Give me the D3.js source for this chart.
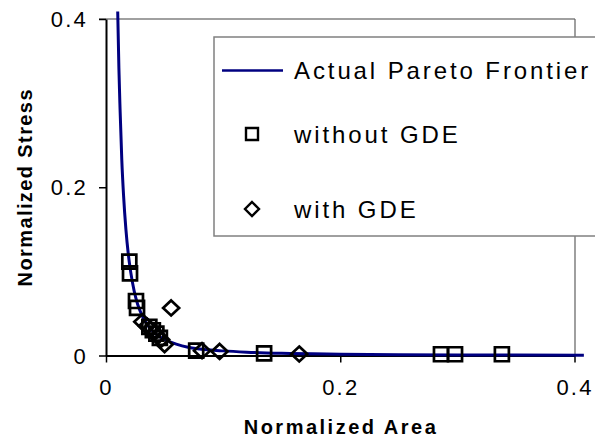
<!DOCTYPE html>
<html><head><meta charset="utf-8">
<script src="https://cdn.jsdelivr.net/npm/d3@7"></script>
<style>
body{margin:0;background:#fff}
svg{display:block}
text{font-family:"Liberation Sans",Arial,sans-serif;fill:#000}
</style>
</head><body>
<svg id="c" width="595" height="438"></svg>
<script>
// ---- data ----
const xTicks = [0, 0.2, 0.4];
const yTicks = [0, 0.2, 0.4];
const xTickLabels = ["0", "0.2", "0.4"];
const yTickLabels = ["0", "0.2", "0.4"];
const seriesNames = ["Actual Pareto Frontier", "without GDE", "with GDE"];
const xTitle = "Normalized Area";
const yTitle = "Normalized Stress";

const frontierX = [0.0100,0.0110,0.0120,0.0135,0.0150,0.0170,0.0190,0.0210,0.0240,0.0270,0.0300,0.0350,0.0400,0.0450,0.0500,0.0600,0.0700,0.0800,0.1000,0.1200,0.1500,0.2000,0.2500,0.3000,0.3500,0.4080];
const frontierY = [0.409,0.342,0.293,0.232,0.190,0.150,0.121,0.100,0.077,0.061,0.050,0.037,0.029,0.023,0.019,0.0135,0.0098,0.0078,0.0055,0.0040,0.0026,0.0016,0.0010,0.0007,0.0005,0.0004];

const withoutX = [0.0199,0.0205,0.0256,0.0265,0.037,0.040,0.043,0.046,0.077,0.135,0.286,0.298,0.338];
const withoutY = [0.1115,0.0977,0.0648,0.0565,0.034,0.030,0.026,0.021,0.0057,0.0026,0.0015,0.0015,0.0015];

const withX = [0.0556,0.031,0.035,0.038,0.041,0.044,0.047,0.050,0.082,0.097,0.165];
const withY = [0.0565,0.040,0.035,0.031,0.027,0.023,0.019,0.013,0.0057,0.0048,0.0018];

// ---- chart ----
const svg = d3.select("#c");
const x = d3.scaleLinear().domain([0, 0.4]).range([106, 574.5]);
const y = d3.scaleLinear().domain([0, 0.4]).range([355.5, 19]);
const navy = "#000080";

// frame (top & right)
svg.append("line").attr("x1", 99).attr("x2", 575).attr("y1", y(0.4)).attr("y2", y(0.4))
  .attr("stroke", "#808080").attr("stroke-width", 1.5);
svg.append("line").attr("x1", 575).attr("x2", 575).attr("y1", y(0.4)).attr("y2", y(0))
  .attr("stroke", "#606060").attr("stroke-width", 1.2);

// axes
const xAxis = svg.append("g").attr("transform", `translate(0,${y(0)})`)
  .call(d3.axisBottom(x).tickValues(xTicks).tickSize(7).tickSizeOuter(0)
    .tickFormat((d, i) => xTickLabels[i]));
const yAxis = svg.append("g").attr("transform", `translate(${x(0)},0)`)
  .call(d3.axisLeft(y).tickValues(yTicks).tickSize(7).tickSizeOuter(0)
    .tickFormat((d, i) => yTickLabels[i]));
[xAxis, yAxis].forEach(g => {
  g.select(".domain").attr("stroke", "#000").attr("stroke-width", 2);
  g.selectAll(".tick line").attr("stroke", "#000").attr("stroke-width", 1.5);
  g.selectAll(".tick text").style("font-size", "22px").style("letter-spacing", "2.2px")
    .attr("fill", "#000");
});
xAxis.selectAll(".tick text").attr("y", 39.5).attr("dy", null);
yAxis.selectAll(".tick text").attr("x", -18).attr("dy", "0.35em");

// axis titles
svg.append("text").attr("x", 341).attr("y", 434).attr("text-anchor", "middle")
  .style("font-size", "20px").style("font-weight", "bold").style("letter-spacing", "2.5px")
  .text(xTitle);
svg.append("text").attr("transform", `translate(32,${(y(0)+y(0.4))/2}) rotate(-90)`)
  .attr("text-anchor", "middle")
  .style("font-size", "20px").style("font-weight", "bold").style("letter-spacing", "1.4px")
  .text(yTitle);

// frontier
const frontier = frontierX.map((v, i) => [v, frontierY[i]]);
svg.append("path").datum(frontier)
  .attr("d", d3.line().x(d => x(d[0])).y(d => y(d[1])).curve(d3.curveMonotoneX))
  .attr("fill", "none").attr("stroke", navy).attr("stroke-width", 3);

// markers
const diamond = (hw, hh) => ({ draw(ctx) { ctx.moveTo(0, -hh); ctx.lineTo(hw, 0); ctx.lineTo(0, hh); ctx.lineTo(-hw, 0); ctx.closePath(); } });
const squareSym = d3.symbol().type(d3.symbolSquare).size(14 * 14);
const diamondSym = d3.symbol().type(diamond(8, 7.5));

svg.append("g").selectAll("path").data(withoutX.map((v, i) => [v, withoutY[i]])).join("path")
  .attr("transform", d => `translate(${x(d[0])},${y(d[1])})`)
  .attr("d", squareSym).attr("fill", "none").attr("stroke", "#000").attr("stroke-width", 2.7);
svg.append("g").selectAll("path").data(withX.map((v, i) => [v, withY[i]])).join("path")
  .attr("transform", d => `translate(${x(d[0])},${y(d[1])})`)
  .attr("d", diamondSym).attr("fill", "none").attr("stroke", "#000").attr("stroke-width", 2.7);

// legend
const lg = svg.append("g");
lg.append("rect").attr("x", 214).attr("y", 37).attr("width", 420).attr("height", 199)
  .attr("fill", "#fff").attr("stroke", "#808080").attr("stroke-width", 1.5);
lg.append("line").attr("x1", 222).attr("x2", 283).attr("y1", 70.5).attr("y2", 70.5)
  .attr("stroke", navy).attr("stroke-width", 2.5);
lg.append("path").attr("transform", "translate(252,134)")
  .attr("d", d3.symbol().type(d3.symbolSquare).size(12 * 12)).attr("fill", "none")
  .attr("stroke", "#000").attr("stroke-width", 2.4);
lg.append("path").attr("transform", "translate(252,209)")
  .attr("d", d3.symbol().type(diamond(7, 7))).attr("fill", "none")
  .attr("stroke", "#000").attr("stroke-width", 2.4);
const ly = [70.5, 134, 209];
seriesNames.forEach((n, i) => {
  lg.append("text").attr("x", 294).attr("y", ly[i]).attr("dy", "0.36em")
    .style("font-size", "24px").style("letter-spacing", "2.9px").text(n);
});
</script>
</body></html>
